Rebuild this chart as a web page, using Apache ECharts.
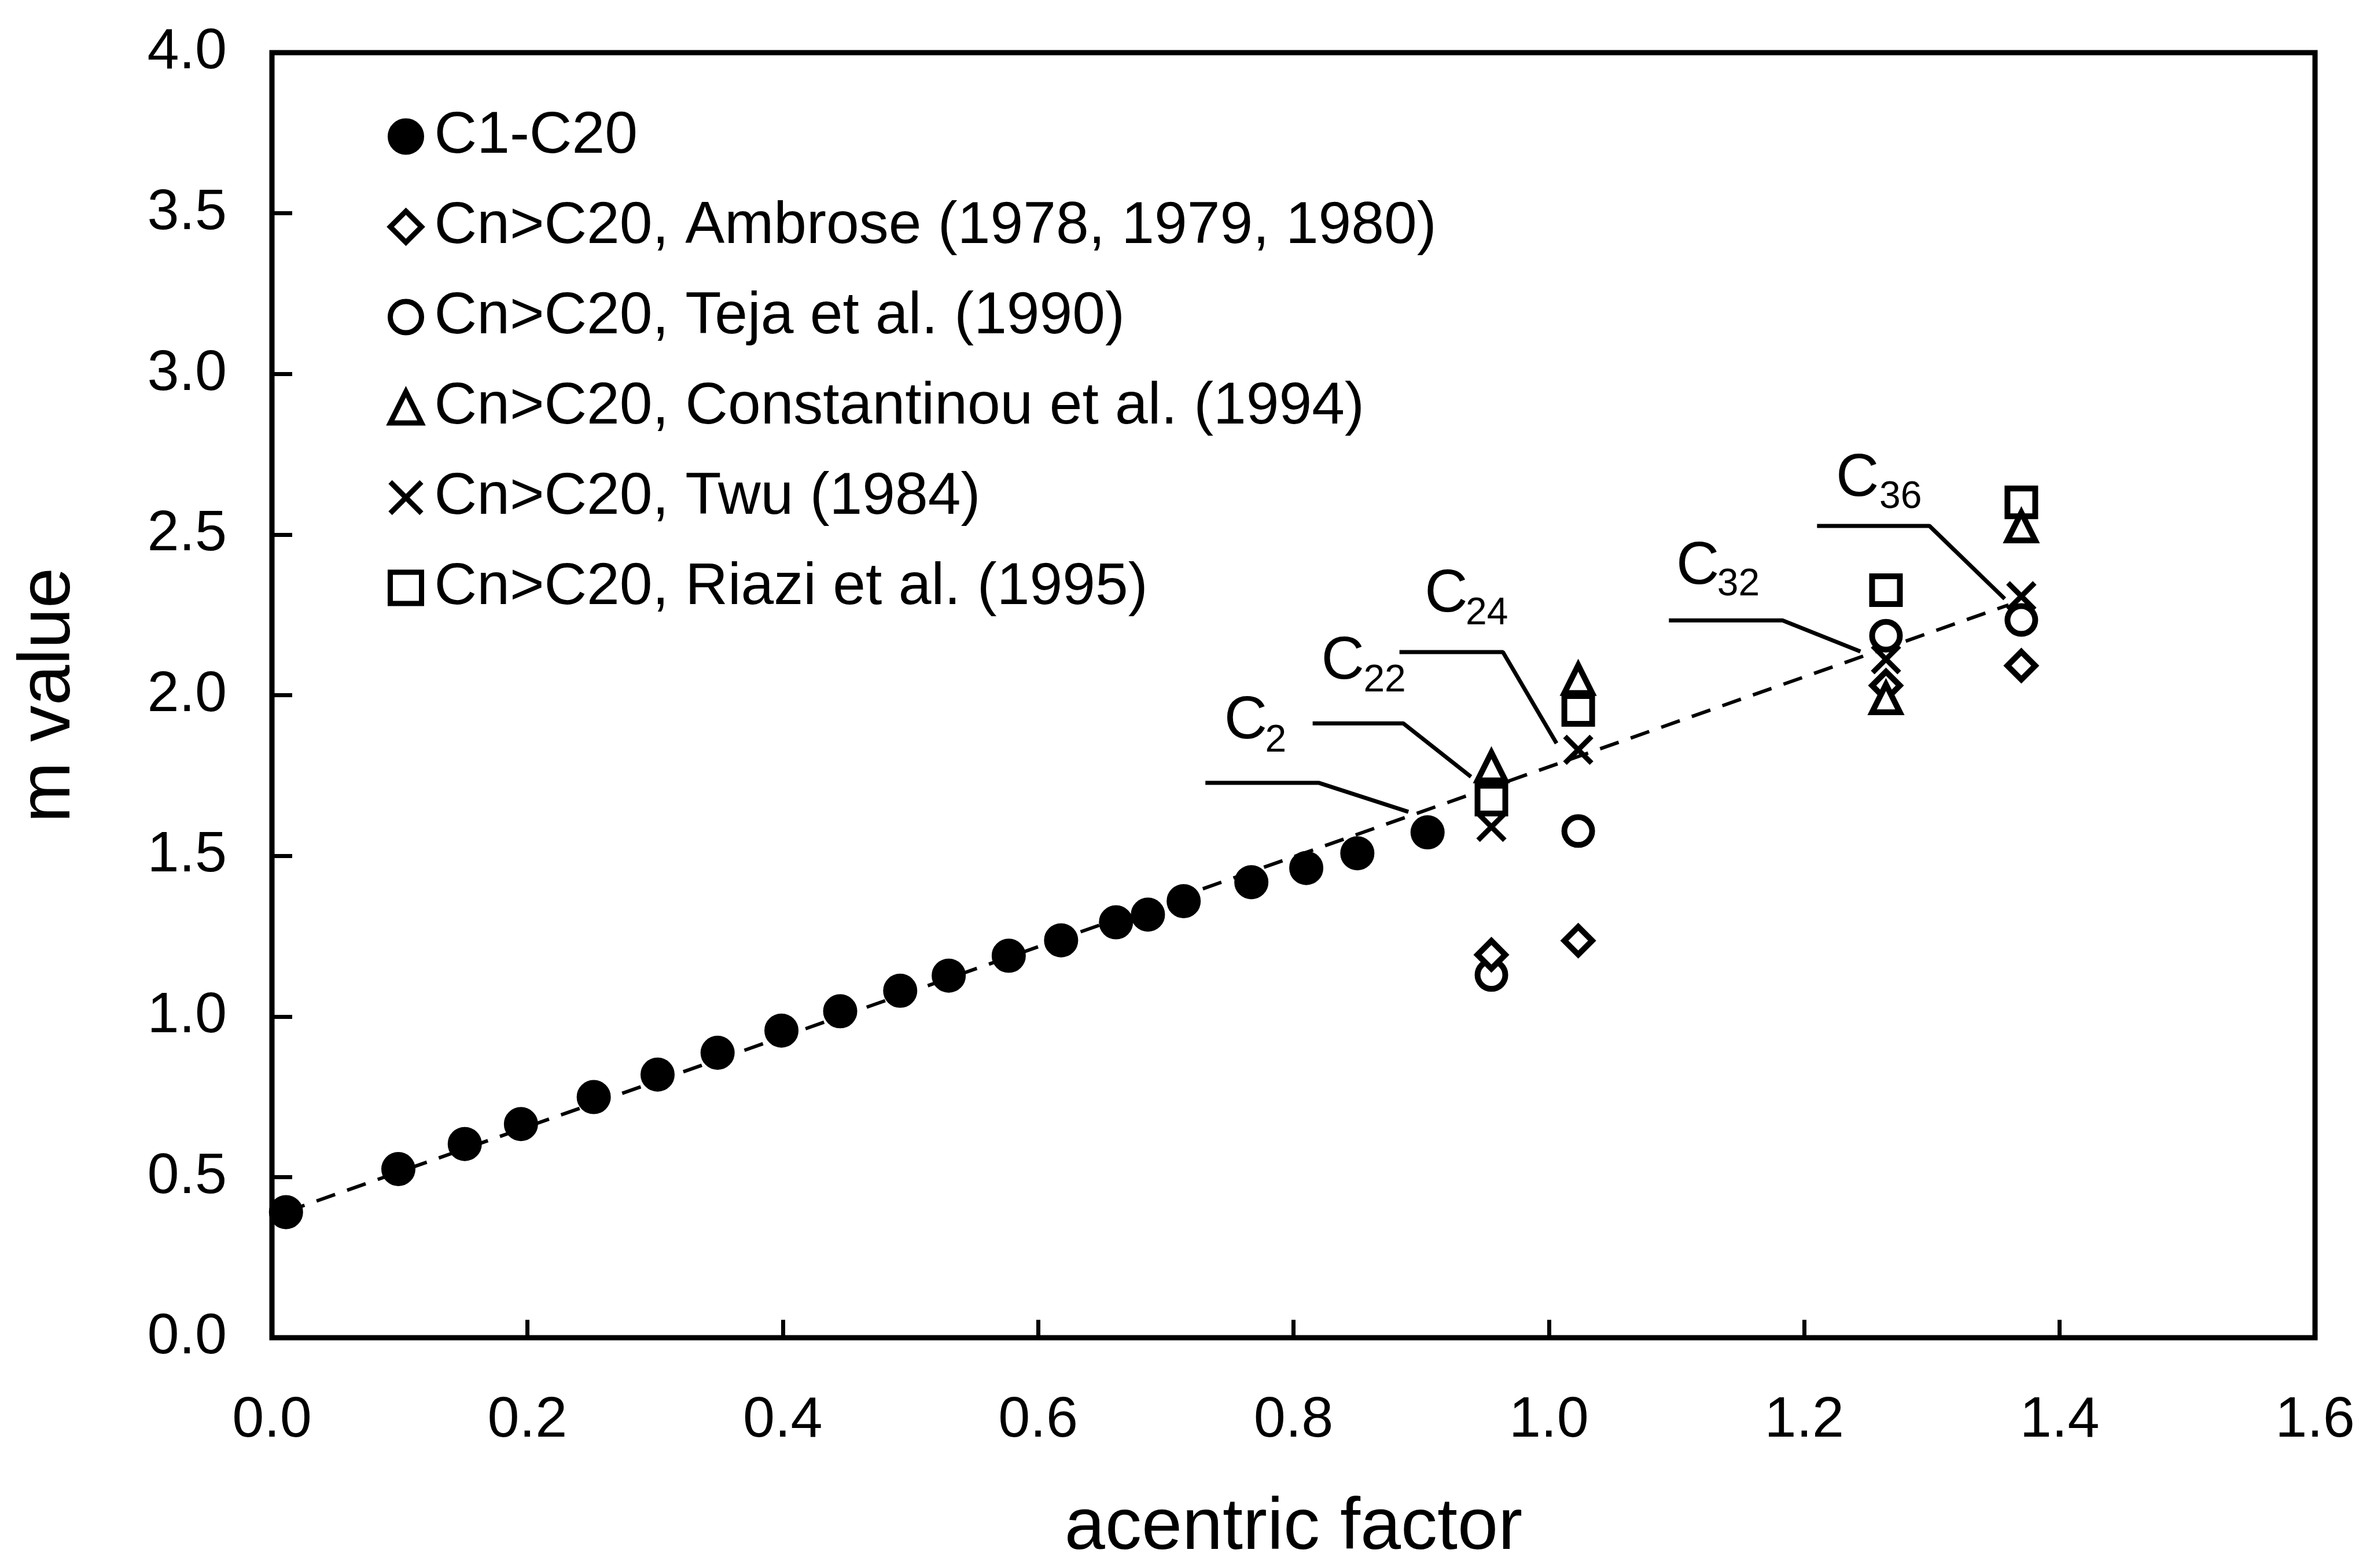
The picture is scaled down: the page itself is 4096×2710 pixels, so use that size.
<!DOCTYPE html>
<html>
<head>
<meta charset="utf-8">
<script src="https://cdn.jsdelivr.net/npm/echarts@6/dist/echarts.min.js"></script>
<style>
  html, body { margin: 0; padding: 0; background: #ffffff; }
  #chart { width: 4096px; height: 2710px; }
</style>
</head>
<body>
<div id="chart"></div>
<script>
// Axis ticks
const xTicks = { min: 0, max: 1.6, step: 0.2 };
const yTicks = { min: 0, max: 4.0, step: 0.5 };

// n-alkanes C1-C20: acentric factor and m value
const alkaneOmega = [0.011, 0.099, 0.151, 0.195, 0.252, 0.302, 0.349, 0.399, 0.445, 0.492,
                     0.530, 0.577, 0.618, 0.661, 0.686, 0.714, 0.767, 0.810, 0.850, 0.905];
const alkaneM     = [0.391, 0.525, 0.603, 0.665, 0.749, 0.819, 0.887, 0.956, 1.016, 1.080,
                     1.127, 1.189, 1.237, 1.293, 1.317, 1.359, 1.418, 1.462, 1.508, 1.573];

// heavy alkanes C22, C24, C32, C36: acentric factor from each source
const heavyOmega     = [0.955, 1.023, 1.264, 1.370];
const ambroseM       = [1.192, 1.236, 2.030, 2.092];
const tejaM          = [1.129, 1.577, 2.185, 2.234];
const constantinouM  = [1.778, 2.050, 1.990, 2.525];
const twuM           = [1.590, 1.830, 2.112, 2.308];
const riaziM         = [1.675, 1.954, 2.327, 2.600];

// straight-line correlation through the C1-C20 points
const fitLine = [[0.011, 0.392], [1.360, 2.281]];

// carbon-number callouts: leader polyline, main letter and subscript
const calloutSub = ['2', '22', '24', '32', '36'];
const calloutLeaders = [
  [[0.731, 1.727], [0.820, 1.727], [0.890, 1.637]],
  [[0.815, 1.912], [0.886, 1.912], [0.939, 1.746]],
  [[0.883, 2.134], [0.964, 2.134], [1.006, 1.850]],
  [[1.094, 2.233], [1.183, 2.233], [1.244, 2.136]],
  [[1.210, 2.527], [1.298, 2.527], [1.357, 2.300]]
];
const calloutMainPos = [[0.746, 1.916], [0.822, 2.102], [0.903, 2.311], [1.100, 2.397], [1.225, 2.670]];
const calloutSubPos  = [[0.778, 1.856], [0.855, 2.044], [0.935, 2.252], [1.132, 2.342], [1.259, 2.615]];

const seriesNames = [
  'C1-C20',
  'Cn>C20, Ambrose (1978, 1979, 1980)',
  'Cn>C20, Teja et al. (1990)',
  'Cn>C20, Constantinou et al. (1994)',
  'Cn>C20, Twu (1984)',
  'Cn>C20, Riazi et al. (1995)'
];

const FONT = '"Liberation Sans", Arial, Helvetica, sans-serif';
const INK = '#000000';
const pairs = (xs, ys) => xs.map((x, i) => [x, ys[i]]);

const hollow = { color: '#ffffff', borderColor: INK, borderWidth: 10, opacity: 1 };
const crossPath = 'path://M0,0L10,10M10,0L0,10';

function markerSeries(name, xs, ys, symbol, size, style, z) {
  return {
    name: name, type: 'scatter', data: pairs(xs, ys),
    symbol: symbol, symbolSize: size, itemStyle: style,
    z: z, silent: true, emphasis: { disabled: true }
  };
}

const series = [];

// dashed correlation line
series.push({
  type: 'line', data: fitLine, symbol: 'none', silent: true, z: 1,
  lineStyle: { color: INK, width: 6, type: [34, 22], opacity: 1 }
});

// callout leaders
calloutLeaders.forEach(path => {
  series.push({
    type: 'line', data: path, symbol: 'none', silent: true, z: 1,
    lineStyle: { color: INK, width: 7, type: 'solid', opacity: 1 }
  });
});

series.push(markerSeries(seriesNames[0], alkaneOmega, alkaneM, 'circle', 51,
  { color: INK, borderColor: INK, borderWidth: 8, opacity: 1 }, 3));
series.push(markerSeries(seriesNames[2], heavyOmega, tejaM, 'circle', 48, hollow, 3));
series.push(markerSeries(seriesNames[1], heavyOmega, ambroseM, 'diamond', 48, hollow, 4));
series.push(markerSeries(seriesNames[4], heavyOmega, twuM, crossPath, 46,
  { color: 'rgba(0,0,0,0)', borderColor: INK, borderWidth: 9, opacity: 1 }, 5));
series.push(markerSeries(seriesNames[5], heavyOmega, riaziM, 'rect', 48, hollow, 6));
series.push(markerSeries(seriesNames[3], heavyOmega, constantinouM, 'triangle', 48, hollow, 7));

// callout text: "C" plus a smaller, lowered carbon number
function textSeries(points, texts, size) {
  return {
    type: 'scatter', silent: true, z: 8, symbolSize: 1,
    itemStyle: { color: 'rgba(0,0,0,0)', opacity: 1 },
    emphasis: { disabled: true },
    data: points.map((p, i) => ({ value: p, label: { formatter: texts[i] } })),
    label: {
      show: true, position: [0, 0], align: 'left', verticalAlign: 'middle',
      fontSize: size, color: INK, fontFamily: FONT
    }
  };
}
series.push(textSeries(calloutMainPos, calloutMainPos.map(() => 'C'), 103));
series.push(textSeries(calloutSubPos, calloutSub, 66));

const option = {
  animation: false,
  backgroundColor: '#ffffff',
  grid: {
    left: 470, right: 95, top: 91, bottom: 392,
    show: true, borderColor: INK, borderWidth: 9, backgroundColor: 'rgba(0,0,0,0)'
  },
  legend: {
    orient: 'vertical', left: 665, top: 180,
    itemWidth: 54, itemHeight: 54, itemGap: 54,
    selectedMode: false,
    data: seriesNames,
    itemStyle: { borderWidth: 9, opacity: 1 },
    textStyle: { fontSize: 102, color: INK, fontFamily: FONT, padding: [0, 0, 0, 17] }
  },
  xAxis: {
    type: 'value', min: xTicks.min, max: xTicks.max, interval: xTicks.step,
    axisLine: { show: false },
    axisTick: { show: true, inside: true, length: 31, lineStyle: { color: INK, width: 7 } },
    axisLabel: { margin: 94, fontSize: 99, color: INK, fontFamily: FONT, formatter: v => v.toFixed(1) },
    splitLine: { show: false },
    name: 'acentric factor', nameLocation: 'middle', nameGap: 267,
    nameTextStyle: { fontSize: 126, color: INK, fontFamily: FONT }
  },
  yAxis: {
    type: 'value', min: yTicks.min, max: yTicks.max, interval: yTicks.step,
    axisLine: { show: false },
    axisTick: { show: true, inside: true, length: 35, lineStyle: { color: INK, width: 7 } },
    axisLabel: { margin: 78, fontSize: 99, color: INK, fontFamily: FONT, formatter: v => v.toFixed(1) },
    splitLine: { show: false },
    name: 'm value', nameLocation: 'middle', nameGap: 322, nameRotate: 90,
    nameTextStyle: { fontSize: 126, color: INK, fontFamily: FONT }
  },
  series: series
};

const chart = echarts.init(document.getElementById('chart'), null, { renderer: 'canvas' });
chart.setOption(option);
</script>
</body>
</html>
